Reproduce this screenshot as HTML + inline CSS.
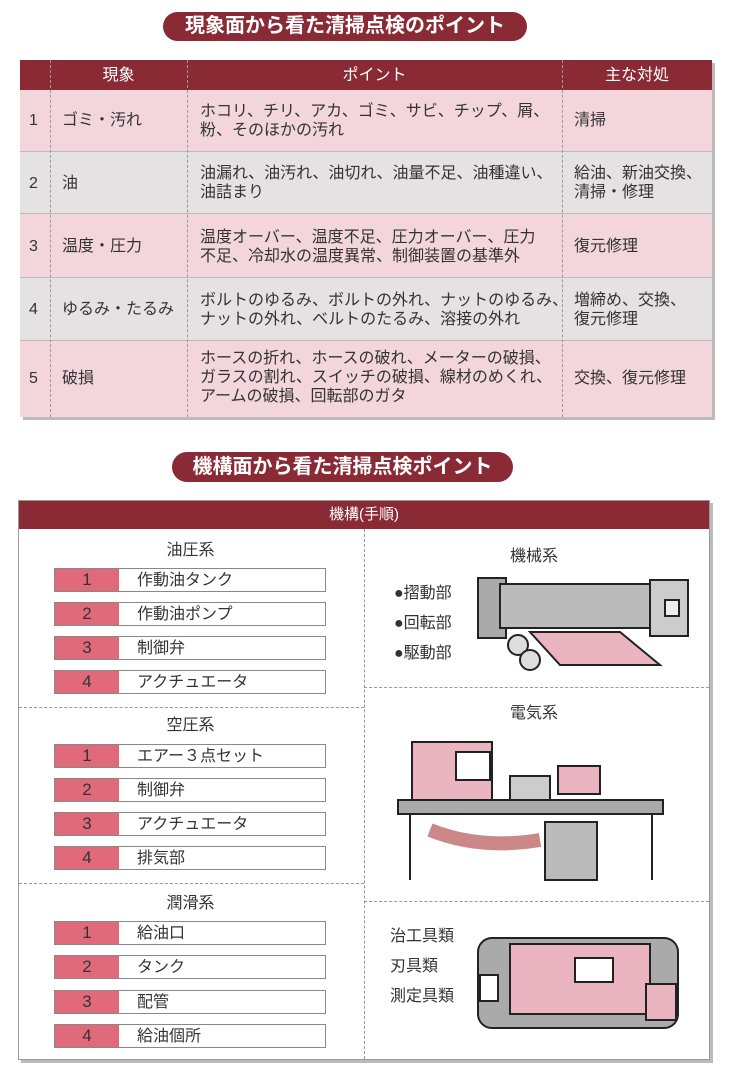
<!DOCTYPE html>
<html><head><meta charset="utf-8"><style>
*{margin:0;padding:0;box-sizing:border-box}
body{width:734px;height:1082px;background:#fff;position:relative;font-family:"Liberation Sans","Noto Sans CJK JP",sans-serif;color:#333;overflow:hidden}
.a{position:absolute}
.pill{background:#8a2a35;color:#fff;border-radius:16px;text-align:center;font-weight:bold;font-size:20px}
.t{font-size:16px;line-height:19px}
.item{position:absolute;left:54px;width:272px;height:24px;border:1px solid #888;background:#fff}
.item .n{position:absolute;left:0;top:0;width:64px;height:22px;background:#e06a7a;text-align:center;font-size:17px;line-height:22px}
.item .l{position:absolute;left:82px;top:0;font-size:16px;line-height:23px}
.dv{position:absolute;border-left:1px dashed #999}
.dh{position:absolute;border-top:1px dashed #999}
</style></head><body>
<div class="a pill" style="left:163px;top:12px;width:364px;height:29px;line-height:29px">現象面から看た清掃点検のポイント</div>
<div class="a" style="left:20px;top:60px;width:692px;height:357px;box-shadow:3px 3px 0 #bbb">
 <div class="a" style="left:0;top:0;width:692px;height:30px;background:#8a2a35"></div>
 <div class="a" style="left:0;top:30px;width:692px;height:61px;background:#f3d5dc"></div>
 <div class="a" style="left:0;top:91px;width:692px;height:62px;background:#e5e2e3"></div>
 <div class="a" style="left:0;top:153px;width:692px;height:64px;background:#f3d5dc"></div>
 <div class="a" style="left:0;top:217px;width:692px;height:63px;background:#e5e2e3"></div>
 <div class="a" style="left:0;top:280px;width:692px;height:77px;background:#f3d5dc"></div>
 <div class="dh" style="left:0;top:91px;width:692px;border-top:1px solid #bbb"></div>
 <div class="dh" style="left:0;top:153px;width:692px;border-top:1px solid #bbb"></div>
 <div class="dh" style="left:0;top:217px;width:692px;border-top:1px solid #bbb"></div>
 <div class="dh" style="left:0;top:280px;width:692px;border-top:1px solid #bbb"></div>
 <div class="dv" style="left:30px;top:0;height:357px"></div>
 <div class="dv" style="left:167px;top:0;height:357px"></div>
 <div class="dv" style="left:542px;top:0;height:357px"></div>
 <div class="a t" style="left:30px;width:137px;top:6px;text-align:center;color:#fff">現象</div>
 <div class="a t" style="left:167px;width:375px;top:6px;text-align:center;color:#fff">ポイント</div>
 <div class="a t" style="left:542px;width:150px;top:6px;text-align:center;color:#fff">主な対処</div>
 <div class="a t" style="left:9px;top:51px">1</div><div class="a t" style="left:42px;top:51px">ゴミ・汚れ</div>
 <div class="a t" style="left:180px;top:42px">ホコリ、チリ、アカ、ゴミ、サビ、チップ、屑、<br>粉、そのほかの汚れ</div><div class="a t" style="left:554px;top:51px">清掃</div>
 <div class="a t" style="left:9px;top:114px">2</div><div class="a t" style="left:42px;top:114px">油</div>
 <div class="a t" style="left:180px;top:104px">油漏れ、油汚れ、油切れ、油量不足、油種違い、<br>油詰まり</div><div class="a t" style="left:554px;top:104px">給油、新油交換、<br>清掃・修理</div>
 <div class="a t" style="left:9px;top:177px">3</div><div class="a t" style="left:42px;top:177px">温度・圧力</div>
 <div class="a t" style="left:180px;top:168px">温度オーバー、温度不足、圧力オーバー、圧力<br>不足、冷却水の温度異常、制御装置の基準外</div><div class="a t" style="left:554px;top:177px">復元修理</div>
 <div class="a t" style="left:9px;top:240px">4</div><div class="a t" style="left:42px;top:240px">ゆるみ・たるみ</div>
 <div class="a t" style="left:180px;top:231px">ボルトのゆるみ、ボルトの外れ、ナットのゆるみ、<br>ナットの外れ、ベルトのたるみ、溶接の外れ</div><div class="a t" style="left:554px;top:231px">増締め、交換、<br>復元修理</div>
 <div class="a t" style="left:9px;top:309px">5</div><div class="a t" style="left:42px;top:309px">破損</div>
 <div class="a t" style="left:180px;top:289px">ホースの折れ、ホースの破れ、メーターの破損、<br>ガラスの割れ、スイッチの破損、線材のめくれ、<br>アームの破損、回転部のガタ</div><div class="a t" style="left:554px;top:309px">交換、復元修理</div>
</div>

<div class="a pill" style="left:172px;top:452px;width:341px;height:30px;line-height:30px">機構面から看た清掃点検ポイント</div>
<div class="a" style="left:18px;top:500px;width:692px;height:560px;border:1px solid #999;box-shadow:3px 3px 0 #bbb">
 <div class="a" style="left:0;top:0;width:690px;height:28px;background:#8a2a35;color:#fff;text-align:center;font-size:15px;line-height:28px">機構(手順)</div>
 <div class="dv" style="left:345px;top:28px;height:530px"></div>
 <div class="dh" style="left:0;top:206px;width:345px"></div>
 <div class="dh" style="left:0;top:382px;width:345px"></div>
 <div class="dh" style="left:345px;top:186px;width:345px"></div>
 <div class="dh" style="left:345px;top:400px;width:345px"></div>
</div>
<div class="a t" style="left:18px;width:345px;top:541px;text-align:center">油圧系</div>
<div class="item" style="top:568px"><div class="n">1</div><div class="l">作動油タンク</div></div>
<div class="item" style="top:602px"><div class="n">2</div><div class="l">作動油ポンプ</div></div>
<div class="item" style="top:636px"><div class="n">3</div><div class="l">制御弁</div></div>
<div class="item" style="top:670px"><div class="n">4</div><div class="l">アクチュエータ</div></div>
<div class="a t" style="left:18px;width:345px;top:716px;text-align:center">空圧系</div>
<div class="item" style="top:744px"><div class="n">1</div><div class="l">エアー３点セット</div></div>
<div class="item" style="top:778px"><div class="n">2</div><div class="l">制御弁</div></div>
<div class="item" style="top:812px"><div class="n">3</div><div class="l">アクチュエータ</div></div>
<div class="item" style="top:846px"><div class="n">4</div><div class="l">排気部</div></div>
<div class="a t" style="left:18px;width:345px;top:894px;text-align:center">潤滑系</div>
<div class="item" style="top:921px"><div class="n">1</div><div class="l">給油口</div></div>
<div class="item" style="top:955px"><div class="n">2</div><div class="l">タンク</div></div>
<div class="item" style="top:990px"><div class="n">3</div><div class="l">配管</div></div>
<div class="item" style="top:1024px"><div class="n">4</div><div class="l">給油個所</div></div>

<div class="a t" style="left:510px;top:547px">機械系</div>
<div class="a t" style="left:394px;top:584px">●摺動部</div>
<div class="a t" style="left:394px;top:614px">●回転部</div>
<div class="a t" style="left:394px;top:644px">●駆動部</div>
<div class="a t" style="left:510px;top:704px">電気系</div>
<div class="a t" style="left:390px;top:922px;line-height:30px">治工具類<br>刃具類<br>測定具類</div>

<svg class="a" style="left:0;top:0" width="734" height="1082">
<g stroke="#222" stroke-width="2">
 <rect x="478" y="578" width="28" height="60" fill="#aaa"/>
 <rect x="500" y="584" width="150" height="44" fill="#bbb"/>
 <rect x="650" y="580" width="38" height="56" fill="#ccc"/>
 <rect x="665" y="600" width="14" height="16" fill="#eee"/>
 <polygon points="530,632 620,632 660,665 560,665" fill="#eab5c0"/>
 <circle cx="518" cy="645" r="10" fill="#ddd"/><circle cx="530" cy="660" r="10" fill="#ddd"/>
 <rect x="412" y="742" width="80" height="60" fill="#eab5c0"/>
 <rect x="456" y="752" width="34" height="28" fill="#fff"/>
 <rect x="510" y="776" width="40" height="24" fill="#ccc"/>
 <rect x="558" y="766" width="42" height="28" fill="#eab5c0"/>
 <rect x="398" y="800" width="265" height="14" fill="#aaa"/>
 <line x1="410" y1="814" x2="410" y2="880"/><line x1="652" y1="814" x2="652" y2="880"/>
 <path d="M430 830 Q480 850 540 840" stroke="#c88" stroke-width="14" fill="none"/>
 <rect x="545" y="822" width="52" height="58" fill="#bbb"/>
 <rect x="478" y="938" width="200" height="90" rx="14" fill="#aaa"/>
 <rect x="510" y="944" width="140" height="70" fill="#eab5c0"/>
 <rect x="575" y="958" width="38" height="24" fill="#fff"/>
 <rect x="480" y="975" width="18" height="26" fill="#fff"/>
 <rect x="646" y="984" width="30" height="36" fill="#eab5c0"/>
</g>
</svg>
</body></html>
